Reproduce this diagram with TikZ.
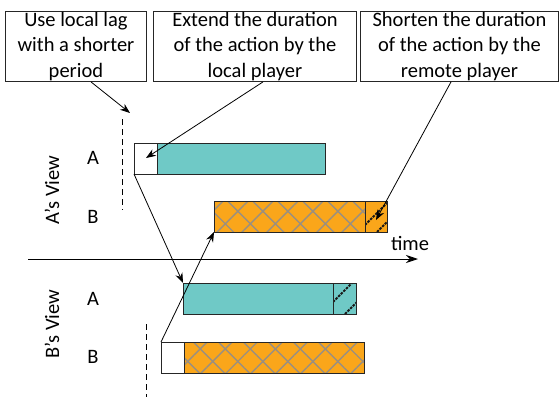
\documentclass[tikz,border=0pt]{standalone}
\usepackage{fontspec}
\setmainfont{Carlito}
\usetikzlibrary{arrows.meta,patterns.meta}
\definecolor{tealbar}{HTML}{6FC9C6}
\definecolor{orangebar}{HTML}{FAA61A}
\definecolor{hatchgray}{HTML}{9A8F80}
\begin{document}
\begin{tikzpicture}[x=1pt,y=-1pt,
  every node/.style={font=\fontsize{20.5}{25.5}\selectfont},
  note/.style={draw=black!85,line width=0.9pt,inner sep=0pt,anchor=north west,minimum height=70pt},
  notetext/.style={align=center,inner sep=0pt},
  bar/.style={draw=black!85,line width=0.9pt,inner sep=0pt,outer sep=0pt,anchor=north west,minimum height=31pt},
  tealbox/.style={bar,fill=tealbar},
  whitebox/.style={bar,fill=white},
  orangebox/.style={bar,fill=orangebar},
  arr/.style={-{Stealth[length=10pt,width=7.5pt]},line width=0.8pt,black},
  dashline/.style={dash pattern=on 6pt off 4pt,line width=0.8pt,black},
  hatchline/.style={dash pattern=on 2.5pt off 1.2pt,line width=2pt,black!90},
  lbl/.style={inner sep=0pt}
]
\useasboundingbox (0,0) rectangle (559,399);

% notes
\node[note,minimum width=141pt] (n1) at (5,11) {};
\node[notetext] (n1t) at (n1.center) {Use local lag\\with a shorter\\period};
\node[note,minimum width=203pt] (n2) at (153,11) {};
\node[notetext] (n2t) at (n2.center) {Extend the duration\\of the action by the\\local player};
\node[note,minimum width=198pt] (n3) at (360,11) {};
\node[notetext] (n3t) at (n3.center) {Shorten the duration\\of the action by the\\remote player};

% A's view
\node[whitebox,minimum width=23pt] (aw) at (134,143) {};
\node[tealbox,minimum width=168pt] (at) at (157,143) {};
\node[orangebox,minimum width=151pt] (ao) at (214,201) {};
\node[orangebox,minimum width=22pt] (ah) at (365,201) {};

% B's view
\node[tealbox,minimum width=150pt] (bt) at (183,283) {};
\node[tealbox,minimum width=23pt] (bh) at (333,283) {};
\node[whitebox,minimum width=23pt] (bw) at (161,342) {};
\node[orangebox,minimum width=180pt] (bo) at (184,342) {};

% cross-hatch patterns
\foreach \n in {ao,bo}{
  \fill[pattern={Lines[angle=45,distance=17.7pt,line width=1.4pt]},pattern color=hatchgray]
    (\n.north west) rectangle (\n.south east);
  \fill[pattern={Lines[angle=-45,distance=17.7pt,line width=1.4pt]},pattern color=hatchgray]
    (\n.north west) rectangle (\n.south east);
  \draw[draw=black!85,line width=0.9pt] (\n.north west) rectangle (\n.south east);
}
% diagonal dashed hatches
\foreach \n/\a in {ah/7,bh/12}{
  \begin{scope}
    \clip (\n.north west) rectangle (\n.south east);
    \draw[hatchline] ([yshift=\a pt]\n.south west) -- ([xshift=32pt,yshift=\a pt+32pt]\n.south west);
    \draw[hatchline] ([xshift=12pt]\n.south west) -- ([xshift=44pt,yshift=32pt]\n.south west);
  \end{scope}
  \draw[draw=black!85,line width=0.9pt] (\n.north west) rectangle (\n.south east);
}

% row labels
\node[lbl] (la1) at (93,158) {A};
\node[lbl] (lb1) at (93,217) {B};
\node[lbl] (la2) at (93,299) {A};
\node[lbl] (lb2) at (93,357) {B};
\node[lbl,rotate=90] (va) at (52,190) {A’s View};
\node[lbl,rotate=90] (vb) at (52,324) {B’s View};

% time axis
\coordinate (t0) at (28,259);
\coordinate (t1) at (418,259);
\draw[-{Stealth[length=12pt,width=8pt]},line width=0.9pt] (t0) -- (t1);
\node[lbl] (time) at (410,243) {time};

% dashed markers
\coordinate (d1a) at (122,119);
\coordinate (d1b) at (122,210);
\draw[dashline] (d1a) -- (d1b);
\coordinate (d2a) at (146,324);
\coordinate (d2b) at (146,397);
\draw[dashline] (d2a) -- (d2b);

% note arrows
\coordinate (n1e) at (130,113);
\draw[arr] (n1.south west) ++(86,0) coordinate (n1s) -- (n1e);
\coordinate (n2e) at (146,158);
\draw[arr] (n2.south west) ++(110,0) coordinate (n2s) -- (n2e);
\coordinate (n3e) at (376,220);
\draw[arr] (n3.south west) ++(91,0) coordinate (n3s) -- (n3e);

% transmission lines
\draw[arr] (aw.south west) -- (bt.north west);
\draw[arr] (bw.north west) -- (ao.south west);
\end{tikzpicture}
\end{document}
